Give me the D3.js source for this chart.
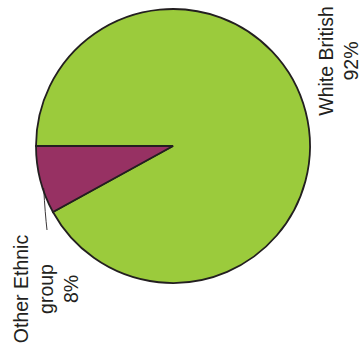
<!DOCTYPE html>
<html>
<head>
<meta charset="utf-8">
<script src="https://cdn.jsdelivr.net/npm/d3@7"></script>
<style>
  html, body { margin: 0; padding: 0; background: #fff; }
  svg { display: block; }
</style>
</head>
<body>
<svg id="chart" width="362" height="354"></svg>
<script>
// data
const groups = ["White British", "Other Ethnic group"];
const shares = [92, 8];
const colours = ["#9bcb3c", "#973163"];

const svg = d3.select("#chart");
const cx = 173, cy = 146, radius = 137;

const pie = d3.pie()
  .sort(null)
  .startAngle(-Math.PI / 2)
  .endAngle(Math.PI * 1.5);
const arcs = pie(shares);

const arc = d3.arc().innerRadius(0).outerRadius(radius);

const g = svg.append("g").attr("transform", `translate(${cx},${cy})`);

g.selectAll("path.slice")
  .data(arcs)
  .enter()
  .append("path")
  .attr("class", "slice")
  .attr("d", arc)
  .attr("fill", (d, i) => colours[i])
  .attr("stroke", "#231f20")
  .attr("stroke-width", 1.8)
  .attr("stroke-linejoin", "miter");

// leader line for the small slice, from its rim down to the label
const small = arcs[1];
const a0 = small.startAngle + (small.endAngle - small.startAngle) * 0.375;
const p0 = [Math.sin(a0) * (radius - 1), -Math.cos(a0) * (radius - 1)];
const p1 = [47 - cx, 230 - cy];
g.append("path")
  .attr("d", `M${p0[0]},${p0[1]} Q${p0[0] + 1.5},${p0[1] + 26} ${p1[0]},${p1[1]}`)
  .attr("fill", "none")
  .attr("stroke", "#231f20")
  .attr("stroke-width", 0.9);

// labels, rotated
const fontSize = 19.5;
const lineH = 25;

function label(lines, x0, yc) {
  const t = svg.append("text")
    .attr("transform", `translate(${x0},${yc}) rotate(-90)`)
    .attr("text-anchor", "middle")
    .style("font-family", "'Liberation Sans', Arial, sans-serif")
    .style("font-size", fontSize + "px")
    .attr("fill", "#231f20");
  lines.forEach((s, i) => {
    t.append("tspan").attr("x", 0).attr("y", i * lineH).text(s);
  });
}

label(["White British", shares[0] + "%"], 333, 61);
label(["Other Ethnic", "group", shares[1] + "%"], 28, 289);
</script>
</body>
</html>
